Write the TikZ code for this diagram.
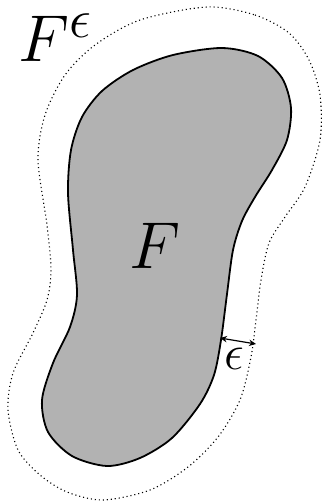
\documentclass[tikz,border=0pt]{standalone}
\usepackage{graphicx}
\usepackage{tikz}
\usetikzlibrary{arrows.meta}

\begin{document}
\begin{tikzpicture}[x=0.5pt,y=-0.5pt,>=Stealth,
 setF/.style={draw=black,line width=0.9pt,fill=black!30},
 nbhd/.style={draw=black,line width=0.55pt,dash pattern=on 0.55pt off 1.45pt},
 biglab/.style={inner sep=0pt,font=\Huge},
 smalllab/.style={inner sep=0pt,font=\Huge}]
\useasboundingbox (0,0) rectangle (322,502);
\draw[nbhd] plot[smooth cycle,tension=0.5] coordinates {(207,7) (255,15) (289,33) (309,60) (320,95) (320,140) (305,187) (285,217) (269,243) (261,280) (256,320) (251,357) (240,400) (218,437) (188,467) (150,490) (103,500) (67,492) (40,475) (18,450) (8,410) (13,373) (33,333) (47,300) (51,270) (47,225) (38,160) (45,115) (65,75) (95,45) (140,20)};
\draw[setF] plot[smooth cycle,tension=0.5] coordinates {(222,48) (258,56) (282,78) (291,108) (287,140) (272,170) (255,197) (242,221) (233,250) (227,294) (221,340) (214,375) (200,404) (172,438) (140,458) (107,466) (72,456) (48,432) (42,400) (53,363) (70,327) (77,295) (73,250) (68,193) (71,150) (82,117) (102,91) (133,70) (173,55)};
\node[biglab] (Fset) at (155,246) {\scalebox{1.33}{$F$}};
\node[biglab] (Feps) at (56,38) {\scalebox{1.33}{$F^{\epsilon}$}};
\coordinate (inner) at (220,338);
\coordinate (outer) at (256,344);
\draw[<->,line width=0.6pt,>={Stealth[length=3.5pt,width=3.2pt]}] (inner)--(outer);
\node[smalllab] (eps) at (234,359) {$\epsilon$};
\end{tikzpicture}
\end{document}
